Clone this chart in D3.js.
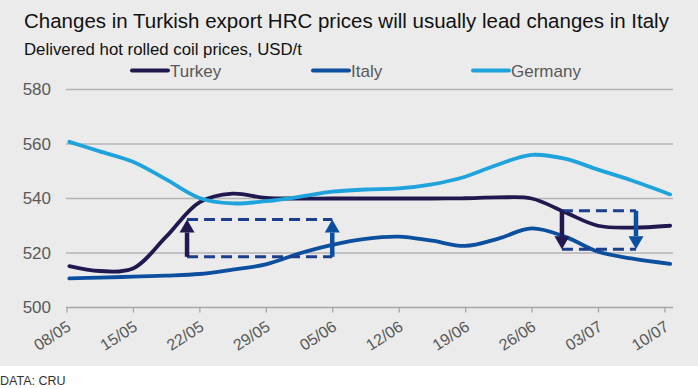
<!DOCTYPE html>
<html><head><meta charset="utf-8">
<script src="https://cdn.jsdelivr.net/npm/d3@7"></script>
<style>
body{margin:0;background:#fff}
svg{display:block;font-family:Arial,"Liberation Sans",sans-serif}
</style></head>
<body><svg id="c" width="698" height="389"></svg>
<script>
// ---- data ----
const tickLabels = ["08/05","15/05","22/05","29/05","05/06","12/06","19/06","26/06","03/07","10/07"];
const tickDays   = [0,7,14,21,28,35,42,49,56,63];
const days    = [0.3,3.5,7,10.5,14,17.5,21,24.5,28,31.5,35,38.5,42,45.5,49,52.5,56,59.5,63.6];
const turkey  = [515.2,513.4,514.3,526,538.6,541.8,540.2,540,540,540,540,540,540.1,540.4,540,535,530,529.3,530];
const italy   = [510.7,511,511.3,511.7,512.3,513.9,515.8,519.8,523,525.2,526,524.5,522.6,525.3,529,526,520.5,518,516];
const germany = [560.8,557.3,553.5,547,540.2,538.2,539,540.6,542.5,543.3,543.7,545.2,548,552.5,556,554.6,550.6,546.7,541.5];
const yTicks  = [500,520,540,560,580];
const seriesNames = ["Turkey","Italy","Germany"];
const seriesColors = ["#20184e","#0b4f9e","#1fa3dc"];
// annotation boxes: start day, end day, low value, high value, direction
const boxStart = [12.7, 52.2];
const boxEnd   = [28.0, 60.0];
const boxLow   = [518.6, 521.4];
const boxHigh  = [532.3, 535.5];
const boxDir   = ["up","down"];

const svg = d3.select("#c");
svg.append("rect").attr("x",0).attr("y",0).attr("width",698).attr("height",366).attr("fill","#ebebeb");

const x = d3.scaleLinear().domain([0,63.9]).range([66.5,673]);
const y = d3.scaleLinear().domain([500,580]).range([307.5,89.5]);

// titles
svg.append("text").attr("x",24).attr("y",27.5).attr("font-size",20.5).attr("fill","#111")
  .text("Changes in Turkish export HRC prices will usually lead changes in Italy");
svg.append("text").attr("x",24).attr("y",54.5).attr("font-size",16.8).attr("fill","#111")
  .text("Delivered hot rolled coil prices, USD/t");
svg.append("text").attr("x",0).attr("y",385).attr("font-size",12.5).attr("fill","#333")
  .text("DATA: CRU");

// gridlines
svg.append("g").selectAll("line").data(yTicks.filter(d=>d>500)).join("line")
  .attr("x1",66).attr("x2",673).attr("y1",d=>y(d)).attr("y2",d=>y(d))
  .attr("stroke","#b4b4b4").attr("stroke-width",1.3);

// y axis labels
const yAxis = svg.append("g").attr("transform","translate(66,0)")
  .call(d3.axisLeft(y).tickValues(yTicks).tickSize(0).tickPadding(15).tickFormat(d3.format("d")));
yAxis.select(".domain").remove();
yAxis.selectAll("text").attr("font-size",17).attr("fill","#595959").attr("font-family",null);

// x axis
const xAxis = svg.append("g").attr("transform",`translate(0,${y(500)})`)
  .call(d3.axisBottom(x).tickValues(tickDays).tickSize(5).tickFormat((d,i)=>tickLabels[i]));
xAxis.select(".domain").attr("d",`M66,0H673`).attr("stroke","#a6a6a6").attr("stroke-width",1.3);
xAxis.selectAll(".tick line").attr("stroke","#a6a6a6").attr("stroke-width",1.3);
xAxis.selectAll("text").attr("font-size",16).attr("fill","#595959").attr("font-family",null)
  .attr("text-anchor","end").attr("dy",null).attr("y",null)
  .attr("transform","translate(5,22) rotate(-33)");

// lines
const line = d3.line().x((d,i)=>x(days[i])).y(d=>y(d)).curve(d3.curveCatmullRom.alpha(0.5));
[turkey, italy, germany].forEach((s,k)=>{
  svg.append("path").datum(s).attr("d",line).attr("fill","none")
    .attr("stroke",seriesColors[k]).attr("stroke-width",3.8).attr("stroke-linecap","round");
});

// annotations
const dashColor = "#1c3f8c";
function arrow(xd, from, to, color){
  const xp = x(xd), y0 = y(from), y1 = y(to);
  const dir = y1 < y0 ? 1 : -1; // 1 => pointing up
  const headLen = 13, half = 7.5;
  svg.append("line").attr("x1",xp).attr("x2",xp).attr("y1",y0).attr("y2",y1 + dir*headLen)
    .attr("stroke",color).attr("stroke-width",4.5);
  svg.append("path").attr("d",`M${xp},${y1}L${xp-half},${y1+dir*headLen}L${xp+half},${y1+dir*headLen}Z`)
    .attr("fill",color);
}
boxStart.forEach((s,i)=>{
  const e = boxEnd[i];
  [boxLow[i], boxHigh[i]].forEach(v=>{
    svg.append("line").attr("x1",x(s)).attr("x2",x(e)).attr("y1",y(v)).attr("y2",y(v))
      .attr("stroke",dashColor).attr("stroke-width",3).attr("stroke-dasharray","11,6");
  });
  if (boxDir[i]==="up"){
    arrow(s, boxLow[i], boxHigh[i], seriesColors[0]);
    arrow(e, boxLow[i], boxHigh[i], seriesColors[1]);
  } else {
    arrow(s, boxHigh[i], boxLow[i], seriesColors[0]);
    arrow(e, boxHigh[i], boxLow[i], seriesColors[1]);
  }
});

// legend
const legX = [132, 313, 473];
seriesNames.forEach((n,i)=>{
  svg.append("line").attr("x1",legX[i]).attr("x2",legX[i]+36).attr("y1",70.5).attr("y2",70.5)
    .attr("stroke",seriesColors[i]).attr("stroke-width",4).attr("stroke-linecap","round");
  svg.append("text").attr("x",legX[i]+38).attr("y",77).attr("font-size",17).attr("fill","#595959").text(n);
});
</script></body></html>
